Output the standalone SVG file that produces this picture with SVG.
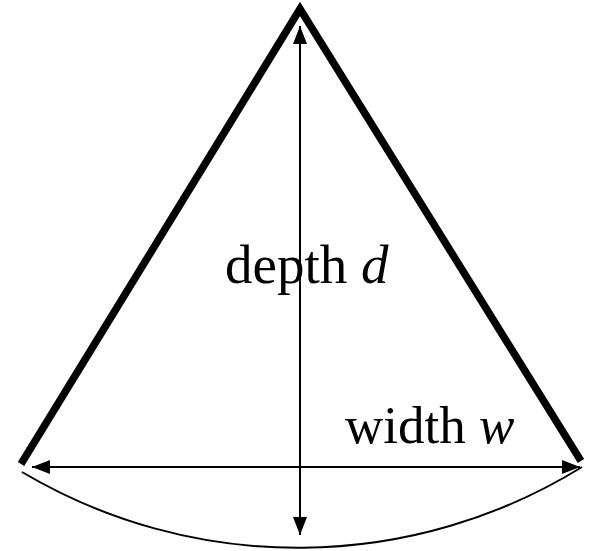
<svg xmlns="http://www.w3.org/2000/svg" width="591" height="551" viewBox="0 0 591 551">
<style>
.thick{stroke:#000;stroke-width:7.5;fill:none;stroke-linecap:butt}
.dim{stroke:#000;stroke-width:2;fill:none}
.lbl{font-family:"Liberation Serif","Times New Roman",serif;fill:#000}
</style>
<defs>
<marker id="ah" markerWidth="18" markerHeight="14" refX="18" refY="7" orient="auto-start-reverse" markerUnits="userSpaceOnUse">
<path d="M0,0 L18,7 L0,14 Z" fill="#000"/>
</marker>
</defs>
<g id="shape">
<path class="thick" d="M21,464 L300,9 L581,461"/>
<path class="dim" d="M22,472 A540,540 0 0 0 582,467"/>
</g>
<g id="connectors">
<line class="dim" x1="300" y1="26" x2="300" y2="535" marker-start="url(#ah)" marker-end="url(#ah)"/>
<line class="dim" x1="32" y1="467" x2="580" y2="467" marker-start="url(#ah)" marker-end="url(#ah)"/>
</g>
<g id="labels">
<text class="lbl" x="225" y="283" font-size="55">depth <tspan font-style="italic">d</tspan></text>
<text class="lbl" x="345" y="443" font-size="53">width <tspan font-style="italic">w</tspan></text>
</g>
</svg>
